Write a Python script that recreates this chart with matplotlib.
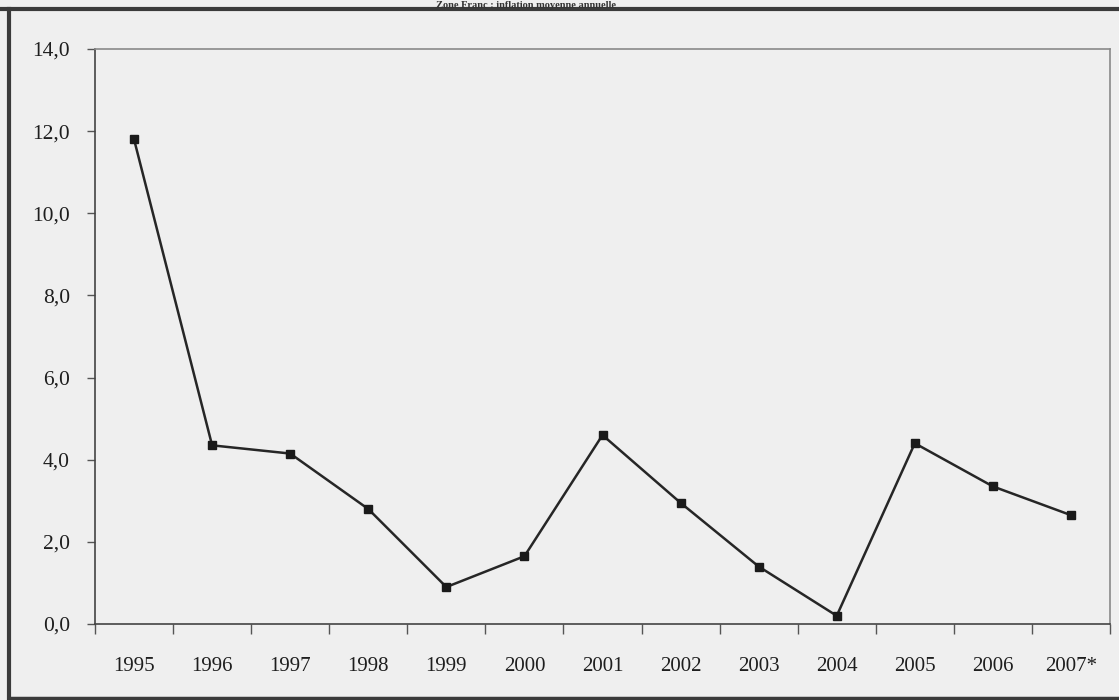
import matplotlib
matplotlib.use("Agg")
import matplotlib.pyplot as plt
from matplotlib.lines import Line2D
from matplotlib.ticker import FixedLocator, FuncFormatter

# Data
years = ["1995", "1996", "1997", "1998", "1999", "2000", "2001",
         "2002", "2003", "2004", "2005", "2006", "2007*"]
inflation = [11.8, 4.35, 4.15, 2.8, 0.9, 1.65, 4.6, 2.95, 1.4, 0.2, 4.4, 3.35, 2.65]
y_ticks = [0, 2, 4, 6, 8, 10, 12, 14]
title = "Zone Franc : inflation moyenne annuelle"

plt.rcParams['font.family'] = ['Liberation Serif', 'DejaVu Serif']

bg = '#efefef'
fig = plt.figure(figsize=(11.19, 7.0), dpi=100, facecolor=bg)
ax = fig.add_axes([95 / 1119, 1 - 624 / 700, (1110 - 95) / 1119, (624 - 49) / 700])
ax.set_facecolor(bg)

x = list(range(len(years)))
ax.plot(x, inflation, color='#262626', linewidth=1.8, marker='s',
        markersize=5.5, markerfacecolor='#1a1a1a', markeredgecolor='#1a1a1a')

ax.set_xlim(-0.5, len(years) - 0.5)
ax.set_ylim(0, 14)

# y axis
ax.yaxis.set_major_locator(FixedLocator(y_ticks))
ax.yaxis.set_major_formatter(FuncFormatter(lambda v, p: f"{v:.1f}".replace('.', ',')))
ax.tick_params(axis='y', direction='out', length=6, width=1, color='#555555',
               labelsize=15.5, labelcolor='#1e1e1e', pad=12)

# x axis: ticks at category boundaries, labels at centers
ax.set_xticks([i - 0.5 for i in range(len(years) + 1)])
ax.set_xticklabels([])
ax.set_xticks(x, minor=True)
ax.set_xticklabels(years, minor=True)
ax.tick_params(axis='x', which='major', direction='out', length=7, width=1, color='#555555')
ax.tick_params(axis='x', which='minor', length=0, labelsize=15,
               labelcolor='#1e1e1e', pad=24)

for side in ['left', 'bottom']:
    ax.spines[side].set_color('#444444')
    ax.spines[side].set_linewidth(1.2)
for side in ['top', 'right']:
    ax.spines[side].set_color('#8a8a8a')
    ax.spines[side].set_linewidth(1.2)

# page border from the scanned document
fig.add_artist(Line2D([0, 1], [1 - 9 / 700, 1 - 9 / 700], transform=fig.transFigure,
                      color='#3a3a3a', linewidth=3))
fig.add_artist(Line2D([9 / 1119, 9 / 1119], [0, 1 - 9 / 700], transform=fig.transFigure,
                      color='#3a3a3a', linewidth=3))
fig.add_artist(Line2D([9 / 1119, 1], [2 / 700, 2 / 700], transform=fig.transFigure,
                      color='#3a3a3a', linewidth=2.5))

# small title at the very top
fig.text(0.47, 1 - 0.5 / 700, title, ha='center', va='top', fontsize=7.5,
         fontweight='bold', color='#333333', zorder=5)

fig.savefig("out.png", dpi=100, facecolor=bg)
